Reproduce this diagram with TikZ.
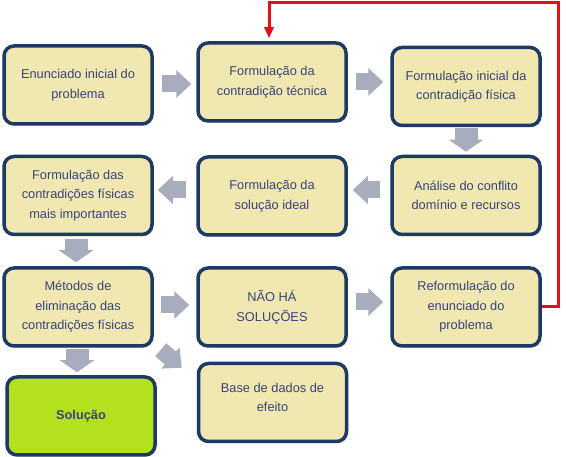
\documentclass[tikz,border=0pt]{standalone}
\usepackage{fontspec}
\setmainfont{Liberation Sans}
\usetikzlibrary{arrows.meta,shadows}
\definecolor{boxfill}{HTML}{F1E7B1}
\definecolor{boxline}{HTML}{1C3A63}
\definecolor{boxtext}{HTML}{36457A}
\definecolor{solfill}{HTML}{B4E11E}
\definecolor{arrowgray}{HTML}{A8ADBE}
\definecolor{loopred}{HTML}{E3101C}
\begin{document}
\begin{tikzpicture}[x=1pt,y=-1pt,
  box/.style={draw=boxline, line width=3.5pt, fill=boxfill, rounded corners=10pt,
    minimum width=148pt, minimum height=78pt, align=center, text=boxtext,
    font=\fontsize{12.8}{19.5}\selectfont,
    drop shadow={shadow xshift=1.5pt, shadow yshift=-1.5pt, fill=black, opacity=0.22}},
  solbox/.style={box, fill=solfill, font=\fontsize{12.8}{19.5}\selectfont\bfseries},
  garrow/.style={draw=arrowgray, line width=17pt, -{Triangle[width=27pt,length=15pt]}},
  varrow/.style={draw=arrowgray, line width=23pt, -{Triangle[width=34pt,length=12pt]}},
  redline/.style={draw=loopred, line width=3pt, -{Triangle[width=9pt,length=11pt]}}
]
\useasboundingbox (0,0) rectangle (566,457);
\fill[white] (0,0) rectangle (566,457);

\node[box] (A) at (78,85) {Enunciado inicial do\\problema};
\node[box] (B) at (272,82) {Formulação da\\contradição técnica};
\node[box] (C) at (466,86.5) {Formulação inicial da\\contradição física};
\node[box] (D) at (78,195.5) {Formulação das\\contradições físicas\\mais importantes};
\node[box] (E) at (272,196) {Formulação da\\solução ideal};
\node[box] (F) at (466,195.5) {Análise do conflito\\domínio e recursos};
\node[box] (G) at (78,307) {Métodos de\\eliminação das\\contradições físicas};
\node[box] (H) at (272,307) {NÃO HÁ\\SOLUÇÕES};
\node[box] (I) at (466,307) {Reformulação do\\enunciado do\\problema};
\node[solbox] (J) at (81,416) {Solução};
\node[box, text depth=10pt] (K) at (272.5,402.5) {Base de dados de\\efeito};

\draw[garrow, shorten <=8pt, shorten >=5pt] ([yshift=1pt]A.east) -- ([yshift=1pt]A.east -| B.west);
\draw[garrow, shorten <=8pt, shorten >=7pt] (B.east) -- (B.east -| C.west);
\draw[varrow, shorten <=1pt, shorten >=3pt] (C.south) -- (C.south |- F.north);
\draw[garrow, shorten <=10pt, shorten >=5pt] ([yshift=5.5pt]F.west) -- ([yshift=5.5pt]F.west -| E.east);
\draw[garrow, shorten <=10pt, shorten >=4pt] ([yshift=6pt]E.west) -- ([yshift=6pt]E.west -| D.east);
\draw[varrow, shorten <=3pt, shorten >=4pt] ([xshift=-2pt]D.south) -- ([xshift=-2pt]D.south |- G.north);
\draw[garrow, shorten <=7pt, shorten >=7pt] ([yshift=2pt]G.east) -- ([yshift=2pt]G.east -| H.west);
\draw[garrow, shorten <=8pt, shorten >=7pt] ([yshift=5pt]H.east) -- ([yshift=5pt]H.east -| I.west);
\draw[varrow, shorten <=1pt, shorten >=3pt] ([xshift=-1pt]G.south) -- ([xshift=-1pt]G.south |- J.north);
\draw[garrow] ([shift={(7pt,-2pt)}]G.south east) -- ([shift={(-15pt,-6pt)}]K.north west);

\coordinate (r1) at (558,3);
\coordinate (r2) at (269,3);
\draw[redline, shorten >=3pt] (I.east) -| (r1) -- (r2) -- (r2 |- B.north);
\end{tikzpicture}
\end{document}
